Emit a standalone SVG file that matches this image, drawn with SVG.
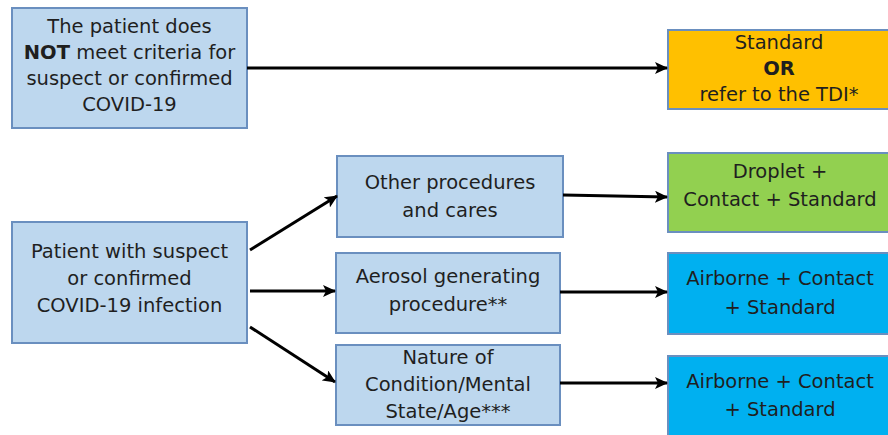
<svg xmlns="http://www.w3.org/2000/svg" width="888" height="435" viewBox="0 0 888 435">
<defs>
<marker id="ah" markerWidth="13" markerHeight="12" refX="12" refY="6" orient="auto" markerUnits="userSpaceOnUse">
<path d="M0,0 L13,6 L0,12 L3,6 z" fill="#000"/>
</marker>
<style>
.b{fill:#BDD7EE;stroke:#6A8FBF;stroke-width:2}
.o{fill:#FFC000;stroke:#6A8FBF;stroke-width:2}
.g{fill:#92D050;stroke:#6A8FBF;stroke-width:2}
.c{fill:#00B0F0;stroke:#6A8FBF;stroke-width:2}
text{font-family:"DejaVu Sans","Open Sans",sans-serif;font-size:19.5px;fill:#1F1F1F;text-anchor:middle}
.bold{font-weight:bold}
.l{stroke:#000;stroke-width:3;fill:none;marker-end:url(#ah)}
</style>
</defs>
<rect width="888" height="435" fill="#fff"/>
<g id="n1">
<rect class="b" x="12" y="8" width="235" height="120"/>
<text x="129.5" y="33">The patient does</text>
<text x="129.5" y="59"><tspan class="bold">NOT</tspan> meet criteria for</text>
<text x="129.5" y="85">suspect or confirmed</text>
<text x="129.5" y="111">COVID-19</text>
</g>
<g id="n2">
<rect class="o" x="668" y="30" width="225" height="79"/>
<text x="779" y="49">Standard</text>
<text x="779" y="75" class="bold">OR</text>
<text x="779" y="101">refer to the TDI*</text>
</g>
<g id="n3">
<rect class="b" x="12" y="222" width="235" height="121"/>
<text x="129.5" y="258">Patient with suspect</text>
<text x="129.5" y="285">or confirmed</text>
<text x="129.5" y="312">COVID-19 infection</text>
</g>
<g id="n4">
<rect class="b" x="337" y="156" width="226" height="81"/>
<text x="450" y="189">Other procedures</text>
<text x="450" y="217">and cares</text>
</g>
<g id="n5">
<rect class="b" x="336" y="253" width="224" height="80"/>
<text x="448" y="283">Aerosol generating</text>
<text x="448" y="311">procedure**</text>
</g>
<g id="n6">
<rect class="b" x="336" y="345" width="224" height="80"/>
<text x="448" y="364">Nature of</text>
<text x="448" y="391">Condition/Mental</text>
<text x="448" y="418">State/Age***</text>
</g>
<g id="n7">
<rect class="g" x="668" y="153" width="225" height="79"/>
<text x="780" y="178">Droplet +</text>
<text x="780" y="206">Contact + Standard</text>
</g>
<g id="n8">
<rect class="c" x="668" y="253" width="225" height="81"/>
<text x="780" y="285">Airborne + Contact</text>
<text x="780" y="314">+ Standard</text>
</g>
<g id="n9">
<rect class="c" x="668" y="356" width="225" height="85"/>
<text x="780" y="388">Airborne + Contact</text>
<text x="780" y="416">+ Standard</text>
</g>
<g id="connectors">
<line class="l" x1="247" y1="68" x2="667" y2="68"/>
<line class="l" x1="250" y1="250" x2="337" y2="196"/>
<line class="l" x1="250" y1="291" x2="335" y2="291"/>
<line class="l" x1="250" y1="327" x2="335" y2="382"/>
<line class="l" x1="563" y1="195" x2="667" y2="197"/>
<line class="l" x1="560" y1="292" x2="667" y2="292"/>
<line class="l" x1="560" y1="383" x2="667" y2="383"/>
</g>
</svg>
